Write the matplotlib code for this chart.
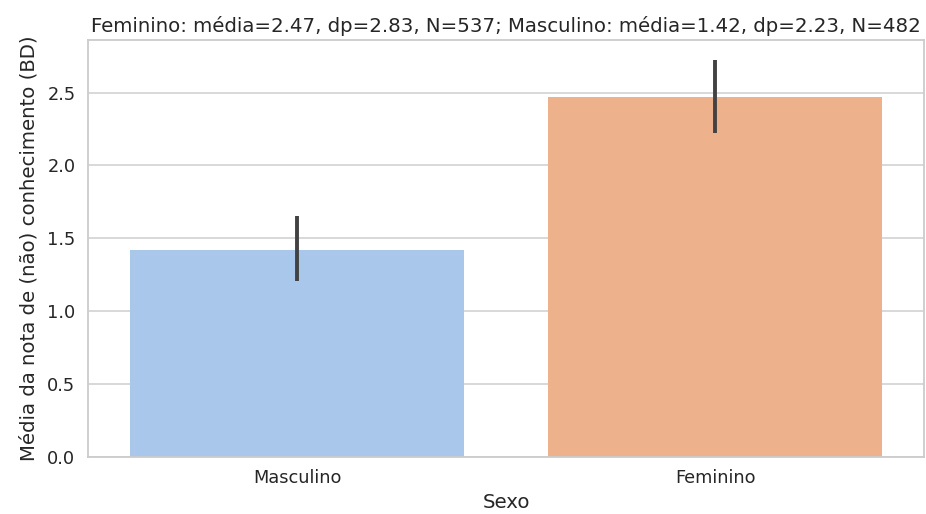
import matplotlib
matplotlib.use("Agg")
import matplotlib.pyplot as plt
import seaborn as sns

# values
categories = ["Masculino", "Feminino"]
means = [1.42, 2.47]
ci_low = [1.21, 2.225]
ci_high = [1.65, 2.725]
bar_colors = ["#a8c7ea", "#edb28c"]
title = "Feminino: média=2.47, dp=2.83, N=537; Masculino: média=1.42, dp=2.23, N=482"

sns.set_theme(style="whitegrid")
plt.rcParams['font.family'] = ['DejaVu Sans']

fig = plt.figure(figsize=(9.26, 5.14), dpi=100)
ax = fig.add_axes([0.095, 0.111, 0.903, 0.811])

x = range(len(categories))
ax.bar(x, means, width=0.8, color=bar_colors, edgecolor="none", zorder=2)

# confidence intervals
ax.vlines(x, ci_low, ci_high, color="#424242", linewidth=2.8, zorder=3)

ax.set_xlim(-0.5, 1.5)
ax.set_ylim(0, 2.86)
ax.set_xticks(list(x))
ax.set_xticklabels(categories, fontsize=12.8, color="#262626")
ax.set_yticks([0.0, 0.5, 1.0, 1.5, 2.0, 2.5])
ax.set_yticklabels([f"{v:.1f}" for v in [0.0, 0.5, 1.0, 1.5, 2.0, 2.5]],
                   fontsize=12.8, color="#262626")
ax.tick_params(axis="both", length=0, pad=9)
ax.xaxis.grid(False)
ax.yaxis.grid(True, color="#d6d6d6", linewidth=1.3)
for s in ax.spines.values():
    s.set_color("#cccccc")
    s.set_linewidth(1.3)

ax.set_xlabel("Sexo", fontsize=14.2, color="#262626", labelpad=4)
ax.set_ylabel("Média da nota de (não) conhecimento (BD)", fontsize=14.2, color="#262626", labelpad=6)
ax.set_title(title, fontsize=14.2, color="#262626", pad=6)

fig.savefig("out.png", dpi=100)
